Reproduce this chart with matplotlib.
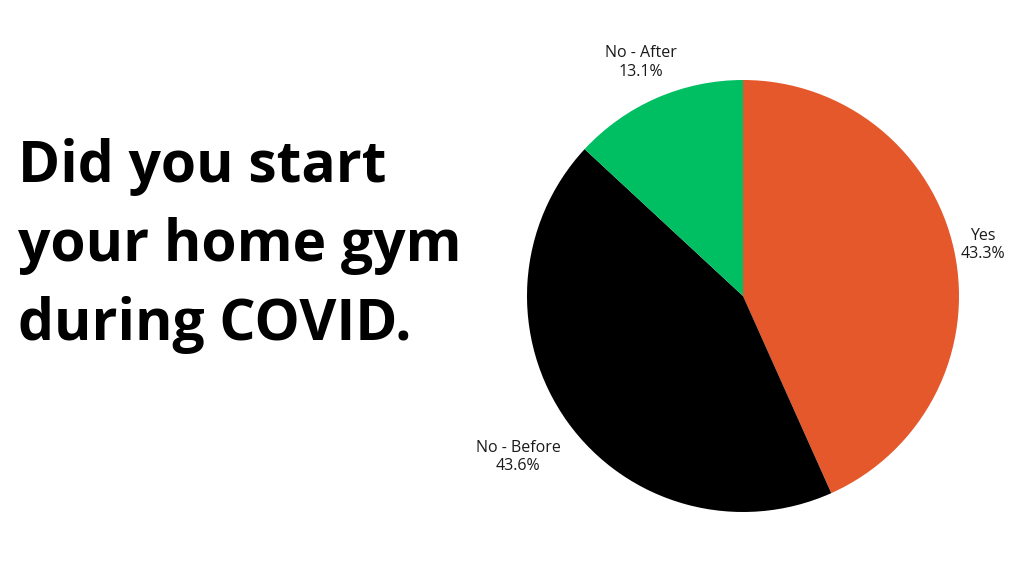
import numpy as np
import matplotlib.pyplot as plt

# survey answers
labels = ["Yes", "No - Before", "No - After"]
shares = [43.3, 43.6, 13.1]
colors = ["#E4582B", "#000000", "#00BF63"]

# how far out each label sits (in radius units)
label_dist = [1.135, 1.28, 1.18]

fig = plt.figure(figsize=(10.24, 5.76), dpi=100)
fig.patch.set_facecolor("white")

# title on the left
fig.text(18 / 1024, 1 - 138 / 576, "Did you start\nyour home gym\nduring COVID.",
         fontsize=41, fontweight="bold", family=["Open Sans", "DejaVu Sans"],
         ha="left", va="top", linespacing=1.48)

# pie on the right
ax = fig.add_axes([527 / 1024, 64 / 576, 432 / 1024, 432 / 576])
wedges, _ = ax.pie(shares, colors=colors, startangle=90, counterclock=False,
                   wedgeprops=dict(linewidth=0))
ax.set_xlim(-1, 1)
ax.set_ylim(-1, 1)
ax.set_aspect("equal")
ax.axis("off")

for w, lab, s, d in zip(wedges, labels, shares, label_dist):
    mid = np.deg2rad((w.theta1 + w.theta2) / 2)
    ax.text(d * np.cos(mid), d * np.sin(mid), f"{lab}\n{s:.1f}%",
            ha="center", va="center", fontsize=11.5,
            family=["Open Sans", "DejaVu Sans"], color="#1a1a1a",
            linespacing=1.2, clip_on=False)

fig.savefig("out.png", dpi=100, facecolor="white")
